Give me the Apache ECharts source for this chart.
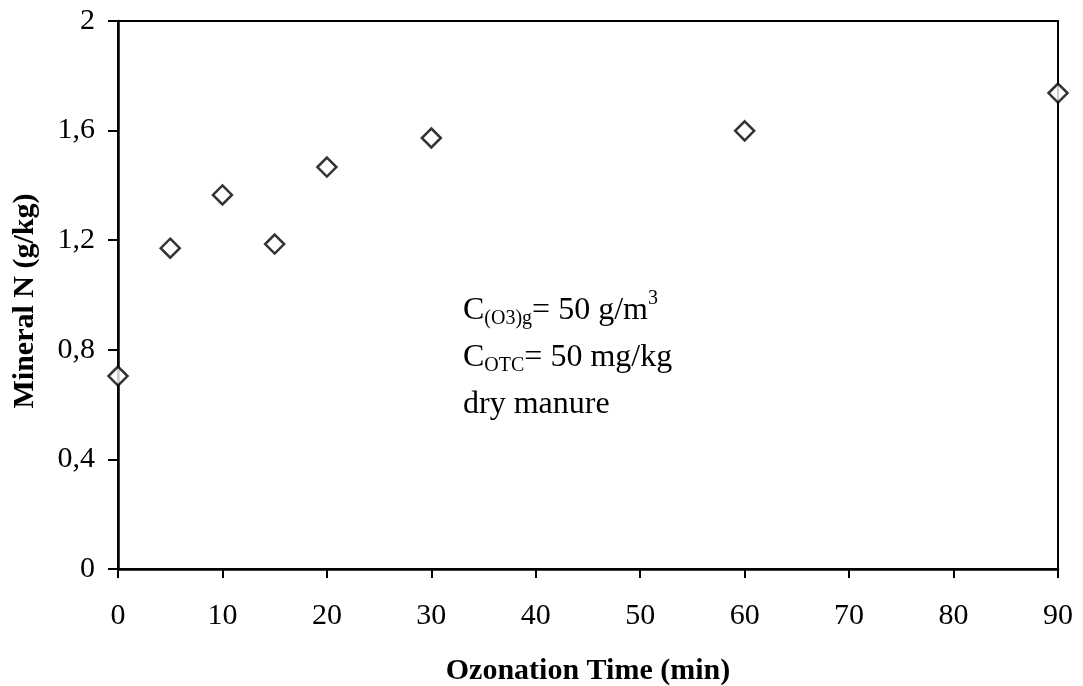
<!DOCTYPE html>
<html>
<head>
<meta charset="utf-8">
<script src="https://cdn.jsdelivr.net/npm/echarts@6/dist/echarts.min.js"></script>
<style>
html,body{margin:0;padding:0;background:#fff;}
#chart{width:1083px;height:686px;}
</style>
</head>
<body>
<div id="chart"></div>
<script>
// Ozonation time (min) and measured mineral nitrogen (g/kg)
const times = [0, 5, 10, 15, 20, 30, 60, 90];
const mineralN = [0.704, 1.171, 1.365, 1.186, 1.467, 1.573, 1.599, 1.737];
const yTickLabels = ['0', '0,4', '0,8', '1,2', '1,6', '2'];

const font = '"Liberation Serif", "Times New Roman", serif';
const chart = echarts.init(document.getElementById('chart'));

chart.setOption({
  backgroundColor: '#fff',
  animation: false,
  grid: {
    left: 118, right: 25, top: 21, bottom: 117,
    containLabel: false,
    outerBoundsMode: 'none',
    show: true, borderColor: '#000', borderWidth: 2, backgroundColor: 'transparent'
  },
  xAxis: {
    type: 'value', min: 0, max: 90, interval: 10,
    name: 'Ozonation Time (min)', nameLocation: 'middle', nameGap: 87,
    nameTextStyle: { fontFamily: font, fontSize: 30, fontWeight: 'bold', color: '#000' },
    axisLine: { show: true, lineStyle: { color: '#000', width: 2.5 } },
    axisTick: { show: true, length: 9, lineStyle: { color: '#000', width: 2 } },
    axisLabel: { fontFamily: font, fontSize: 30, color: '#000', margin: 32 },
    splitLine: { show: false }
  },
  yAxis: {
    type: 'value', min: 0, max: 2, interval: 0.4,
    name: 'Mineral N (g/kg)', nameLocation: 'middle', nameGap: 78, nameRotate: 90,
    nameTextStyle: { fontFamily: font, fontSize: 30, fontWeight: 'bold', color: '#000', padding: [0, 12, 0, 0] },
    axisLine: { show: true, lineStyle: { color: '#000', width: 2.5 } },
    axisTick: { show: true, length: 10, lineStyle: { color: '#000', width: 2 } },
    axisLabel: {
      fontFamily: font, fontSize: 30, color: '#000', margin: 23,
      formatter: function (v) { return yTickLabels[Math.round(v / 0.4)]; }
    },
    splitLine: { show: false }
  },
  series: [{
    type: 'scatter',
    data: times.map((t, i) => [t, mineralN[i]]),
    symbol: 'diamond',
    symbolSize: 19,
    itemStyle: { color: '#fff', borderColor: '#000', borderWidth: 2.5 },
    clip: false
  }],
  graphic: [{
    type: 'text',
    left: 463, top: 287,
    style: {
      text: '{m|C}{s|(O3)g}{m|= 50 g/m}{p|3}\n{m|C}{s|OTC}{m|= 50 mg/kg}\n{m|dry manure}',
      fontFamily: font,
      fill: '#000',
      rich: {
        m: { fontFamily: font, fontSize: 32, fill: '#000', lineHeight: 47 },
        s: { fontFamily: font, fontSize: 20, fill: '#000', lineHeight: 20, verticalAlign: 'bottom', padding: [0, 0, 5, 0] },
        p: { fontFamily: font, fontSize: 20, fill: '#000', lineHeight: 20, verticalAlign: 'top', padding: [2, 0, 0, 0] }
      }
    }
  }]
});
</script>
</body>
</html>
